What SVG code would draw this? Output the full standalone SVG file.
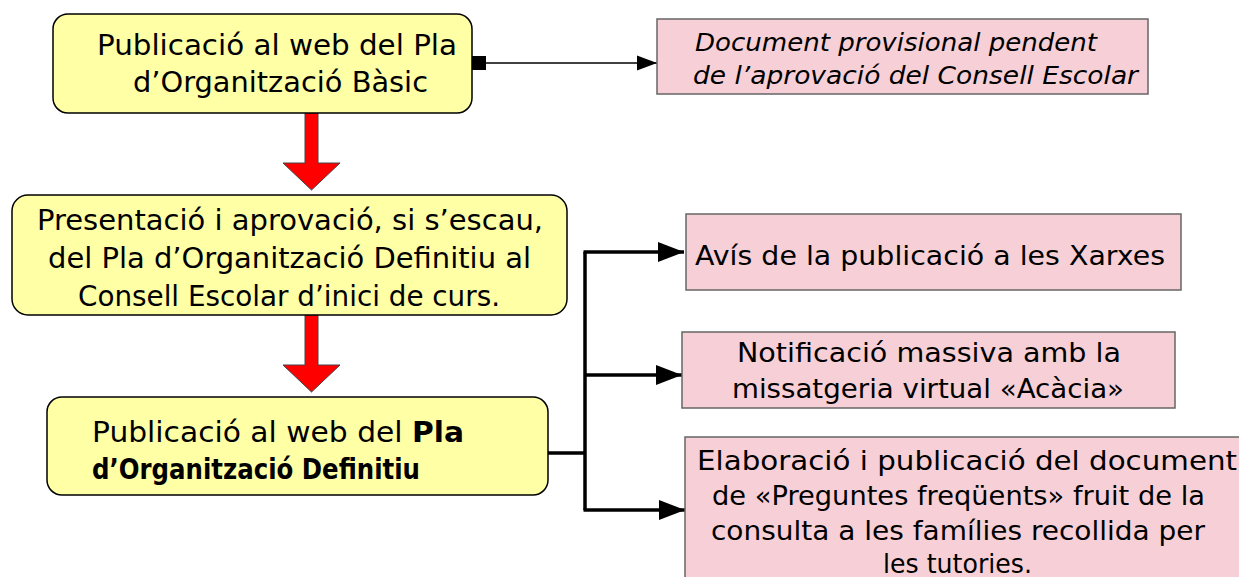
<svg xmlns="http://www.w3.org/2000/svg" width="1239" height="577" viewBox="0 0 1239 577">
<style>
.y{fill:#ffffa6;stroke:#000;stroke-width:1.5}
.p{fill:#f6d0d6;stroke:#666;stroke-width:1.5}
text{font-family:"DejaVu Sans","Liberation Sans",sans-serif;fill:#000}
.t{font-size:29px}
.s{font-size:27px}
.i{font-size:25px;font-style:italic}
.b{font-weight:bold}
.red{fill:#ff0000;stroke:#444;stroke-width:1}
.c{fill:none;stroke:#000;stroke-width:3.5}
.thin{fill:none;stroke:#000;stroke-width:1.5}
</style>
<defs>
<marker id="ah" markerUnits="userSpaceOnUse" markerWidth="28" markerHeight="20" refX="26" refY="10" orient="auto">
<path d="M0,0 L26,10 L0,20 Z" fill="#000"/>
</marker>
<marker id="ah2" markerUnits="userSpaceOnUse" markerWidth="22" markerHeight="16" refX="20" refY="8" orient="auto">
<path d="M0,0.5 L20,8 L0,15.5 Z" fill="#000"/>
</marker>
</defs>

<g id="connectors">
<rect x="472" y="56" width="14" height="14" fill="#000"/>
<path class="thin" d="M486,63 L657,63" marker-end="url(#ah2)"/>
<path class="red" d="M305,113 L318,113 L318,163 L340,163 L311.5,190 L283,163 L305,163 Z"/>
<path class="red" d="M305,315 L318,315 L318,365 L340,365 L311.5,392 L283,365 L305,365 Z"/>
<path class="c" d="M548,453 L585,453"/>
<path class="c" d="M585,252 L585,510"/>
<path class="c" d="M583.5,252 L684,252" marker-end="url(#ah)"/>
<path class="c" d="M585,375 L682,375" marker-end="url(#ah)"/>
<path class="c" d="M583.5,510 L685,510" marker-end="url(#ah)"/>
</g>

<g id="node1">
<rect class="y" x="53" y="14" width="419" height="99" rx="15"/>
<text class="t" x="97" y="55" textLength="360" lengthAdjust="spacingAndGlyphs">Publicació al web del Pla</text>
<text class="t" x="133" y="92" textLength="295" lengthAdjust="spacingAndGlyphs">d’Organització Bàsic</text>
</g>

<g id="node2">
<rect class="p" x="657" y="19" width="491" height="75"/>
<text class="i" x="695" y="51" textLength="402" lengthAdjust="spacingAndGlyphs">Document provisional pendent</text>
<text class="i" x="693" y="84" textLength="445" lengthAdjust="spacingAndGlyphs">de l’aprovació del Consell Escolar</text>
</g>

<g id="node3">
<rect class="y" x="12" y="195" width="555" height="120" rx="16"/>
<text class="t" x="37" y="230" textLength="506" lengthAdjust="spacingAndGlyphs">Presentació i aprovació, si s’escau,</text>
<text class="t" x="48" y="268" textLength="483" lengthAdjust="spacingAndGlyphs">del Pla d’Organització Definitiu al</text>
<text class="t" x="78" y="306" textLength="422" lengthAdjust="spacingAndGlyphs">Consell Escolar d’inici de curs.</text>
</g>

<g id="node4">
<rect class="y" x="47" y="397" width="501" height="98" rx="15"/>
<text class="t" x="92" y="442" textLength="372" lengthAdjust="spacingAndGlyphs">Publicació al web del <tspan class="b">Pla</tspan></text>
<text class="t b" x="92" y="479" textLength="328" lengthAdjust="spacingAndGlyphs">d’Organització Definitiu</text>
</g>

<g id="node5">
<rect class="p" x="686" y="214" width="495" height="76"/>
<text class="s" x="695" y="265" textLength="470" lengthAdjust="spacingAndGlyphs">Avís de la publicació a les Xarxes</text>
</g>

<g id="node6">
<rect class="p" x="682" y="332" width="493" height="76"/>
<text class="s" x="737" y="362" textLength="384" lengthAdjust="spacingAndGlyphs">Notificació massiva amb la</text>
<text class="s" x="732" y="398" textLength="392" lengthAdjust="spacingAndGlyphs">missatgeria virtual «Acàcia»</text>
</g>

<g id="node7">
<rect class="p" x="685" y="437" width="560" height="150"/>
<text class="s" x="697" y="470" textLength="540" lengthAdjust="spacingAndGlyphs">Elaboració i publicació del document</text>
<text class="s" x="712" y="505" textLength="493" lengthAdjust="spacingAndGlyphs">de «Preguntes freqüents» fruit de la</text>
<text class="s" x="711" y="540" textLength="494" lengthAdjust="spacingAndGlyphs">consulta a les famílies recollida per</text>
<text class="s" x="883" y="573" textLength="149" lengthAdjust="spacingAndGlyphs">les tutories.</text>
</g>
</svg>
